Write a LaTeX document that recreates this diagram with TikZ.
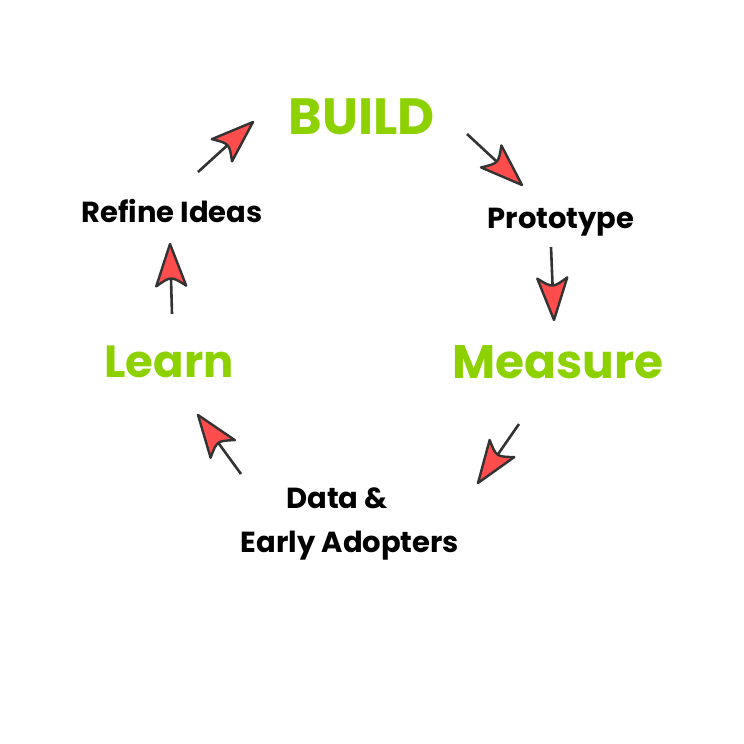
\documentclass[tikz,border=0pt]{standalone}
\usepackage{fontspec}
\newfontfamily\popfont{Poppins}
\usetikzlibrary{calc}
\definecolor{leafgreen}{HTML}{8ED100}
\definecolor{headred}{HTML}{FF4D4D}
\definecolor{inkdark}{HTML}{333333}
\tikzset{
  stagelabel/.style={text=leafgreen, font=\popfont\bfseries\fontsize{#1}{#1}\selectfont, inner sep=0pt},
  stagelabel/.default=50,
  steplabel/.style={text=black, font=\popfont\bfseries\fontsize{29}{34}\selectfont, inner sep=0pt},
  shaftline/.style={draw=inkdark, line width=2.6pt, line cap=butt},
  headshape/.style={fill=headred, draw=inkdark, line width=2.4pt, line join=round},
}
\newcommand\cyclearrow[2]{%
  \draw[shaftline] (#1) -- ($(#2)!34pt!(#1)$);
  \path[headshape] (#2) -- ($($(#2)!42pt!(#1)$)!15pt!90:(#2)$)
    .. controls ($(#2)!32pt!(#1)$) .. ($($(#2)!42pt!(#1)$)!15pt!-90:(#2)$) -- cycle;
}
\begin{document}
\begin{tikzpicture}[x=1pt,y=-1pt]
  \useasboundingbox[fill=white] (0,0) rectangle (744,744);
  \node[stagelabel=51] (build) at (362,117) {BUILD};
  \node[stagelabel=47] (measure) at (558,362) {Measure};
  \node[stagelabel=45] (learn) at (169,362) {Learn};
  \node[steplabel] (refine) at (172,211) {Refine Ideas};
  \node[steplabel] (proto) at (561,222) {Prototype};
  \node[steplabel] (data) at (337,498) {Data \&};
  \node[steplabel] (early) at (350,546) {Early Adopters};
  \coordinate (t1) at (198,172); \coordinate (h1) at (253,122);
  \coordinate (t2) at (467,134); \coordinate (h2) at (522,185);
  \coordinate (t3) at (551,247); \coordinate (h3) at (554,320);
  \coordinate (t4) at (519,424); \coordinate (h4) at (478,483);
  \coordinate (t5) at (241,474); \coordinate (h5) at (198,415);
  \coordinate (t6) at (172,314); \coordinate (h6) at (170,244);
  \cyclearrow{t1}{h1}
  \cyclearrow{t2}{h2}
  \cyclearrow{t3}{h3}
  \cyclearrow{t4}{h4}
  \cyclearrow{t5}{h5}
  \cyclearrow{t6}{h6}
\end{tikzpicture}
\end{document}
